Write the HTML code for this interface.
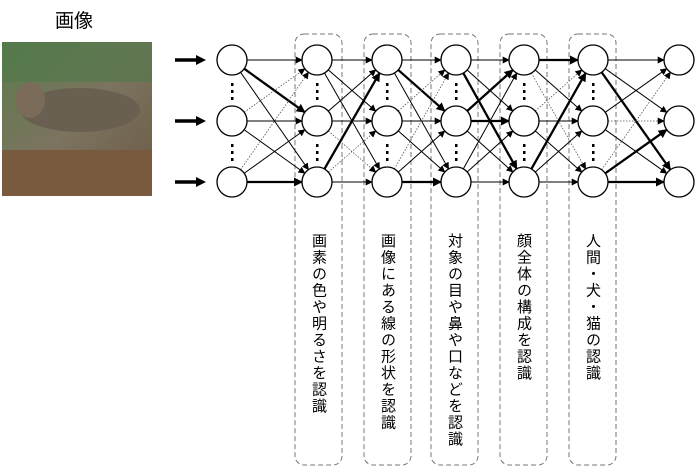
<!DOCTYPE html>
<html><head><meta charset="utf-8"><style>
body{margin:0;width:697px;height:473px;background:#fff;position:relative;overflow:hidden;font-family:"Liberation Sans","Noto Sans CJK JP",sans-serif}
.v{position:absolute;top:233px;writing-mode:vertical-rl;font-size:15px;line-height:15px;letter-spacing:1.5px;color:#000;font-family:"Liberation Sans","Noto Sans CJK JP",sans-serif}
</style></head><body>
<div style="position:absolute;left:55px;top:6px;font-size:19px">画像</div>
<svg width="697" height="473" style="position:absolute;left:0;top:0">
<defs>
<linearGradient id="bg" x1="0" y1="0" x2="1" y2="1"><stop offset="0" stop-color="#5d7a4c"/><stop offset="0.5" stop-color="#7c7460"/><stop offset="1" stop-color="#6b5a44"/></linearGradient>
<marker id="a" viewBox="0 0 10 10" refX="9" refY="5" markerWidth="7" markerHeight="7" markerUnits="userSpaceOnUse" orient="auto"><path d="M0,0L10,5L0,10z" fill="#000"/></marker>
<marker id="b" viewBox="0 0 10 10" refX="9" refY="5" markerWidth="9" markerHeight="9" markerUnits="userSpaceOnUse" orient="auto"><path d="M0,0L10,5L0,10z" fill="#000"/></marker>
</defs>
<rect x="2" y="42" width="150" height="154" fill="url(#bg)"/>
<rect x="2" y="42" width="150" height="40" fill="#4f7a4a" opacity="0.6"/>
<ellipse cx="80" cy="110" rx="60" ry="22" fill="#6a6052"/>
<ellipse cx="30" cy="100" rx="15" ry="18" fill="#7a6c58"/>
<rect x="2" y="150" width="150" height="46" fill="#7a5a3e"/>
<g id="boxes" fill="none" stroke="#777" stroke-dasharray="5,3" stroke-width="1">
<rect x="295" y="34" width="47" height="431" rx="9"/>
<rect x="364" y="34" width="47" height="431" rx="9"/>
<rect x="431" y="34" width="47" height="431" rx="9"/>
<rect x="500" y="34" width="47" height="431" rx="9"/>
<rect x="569" y="34" width="47" height="431" rx="9"/>
</g>
<g stroke="#000" stroke-width="3.5">
<line x1="175" y1="60" x2="198" y2="60"/><line x1="175" y1="121" x2="198" y2="121"/><line x1="175" y1="182" x2="198" y2="182"/>
</g>
<g fill="#000"><path d="M196,55L206,60L196,65z"/><path d="M196,116L206,121L196,126z"/><path d="M196,177L206,182L196,187z"/></g>
<g id="edges"></g>
<g id="nodes" fill="#fff" stroke="#000" stroke-width="1.3"></g>
<g id="dots" fill="#000"></g>
</svg>
<div class="v" style="left:311px">画素の色や明るさを認識</div>
<div class="v" style="left:380px">画像にある線の形状を認識</div>
<div class="v" style="left:447px">対象の目や鼻や口などを認識</div>
<div class="v" style="left:516px">顔全体の構成を認識</div>
<div class="v" style="left:585px">人間・犬・猫の認識</div>
<script>
var xs=[232,317,387,456,524,593,679],ys=[60,121,182],r=15;
var S=[
[0,1,0, 2,0,0, 2,0,1],
[0,0,0, 0,0,2, 1,2,0],
[0,1,0, 2,0,0, 2,0,1],
[0,0,1, 1,1,0, 0,0,0],
[1,0,2, 2,0,0, 1,0,0],
[0,0,1, 0,2,0, 2,1,1]
];
var ns="http://www.w3.org/2000/svg",E=document.getElementById('edges'),N=document.getElementById('nodes'),D=document.getElementById('dots');
for(var l=0;l<6;l++){for(var i=0;i<3;i++)for(var j=0;j<3;j++){
var x1=xs[l],y1=ys[i],x2=xs[l+1],y2=ys[j],dx=x2-x1,dy=y2-y1,d=Math.hypot(dx,dy);
var ln=document.createElementNS(ns,'line');
ln.setAttribute('x1',x1+dx/d*r);ln.setAttribute('y1',y1+dy/d*r);
ln.setAttribute('x2',x2-dx/d*r);ln.setAttribute('y2',y2-dy/d*r);
var s=S[l][i*3+j];
if(s==0){ln.setAttribute('stroke','#000');ln.setAttribute('stroke-width','1');ln.setAttribute('marker-end','url(#a)');}
else if(s==1){ln.setAttribute('stroke','#000');ln.setAttribute('stroke-width','2.3');ln.setAttribute('marker-end','url(#b)');}
else{ln.setAttribute('stroke','#555');ln.setAttribute('stroke-width','0.8');ln.setAttribute('stroke-dasharray','1.5,1.5');ln.setAttribute('marker-end','url(#a)');}
E.appendChild(ln);}}
for(var k=0;k<7;k++){for(var i=0;i<3;i++){var c=document.createElementNS(ns,'circle');c.setAttribute('cx',xs[k]);c.setAttribute('cy',ys[i]);c.setAttribute('r',r);N.appendChild(c);}
if(k<6){[[83,90,97],[144,151,158]].forEach(function(g){g.forEach(function(y){var q=document.createElementNS(ns,'rect');q.setAttribute('x',xs[k]-1);q.setAttribute('y',y);q.setAttribute('width',2.5);q.setAttribute('height',3);D.appendChild(q);});});}}
</script>
</body></html>
